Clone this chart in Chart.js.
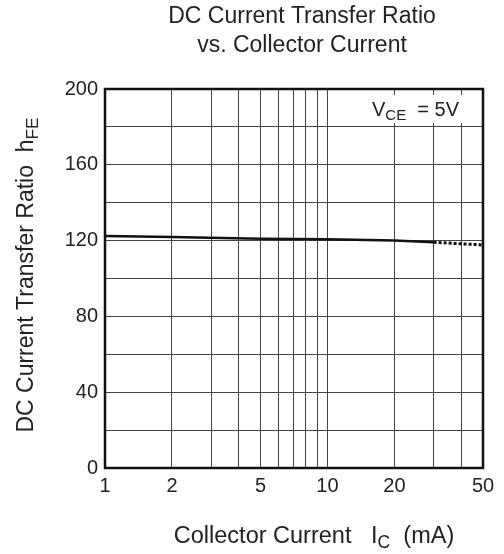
<!DOCTYPE html>
<html>
<head>
<meta charset="utf-8">
<script src="https://cdn.jsdelivr.net/npm/chart.js@4"></script>
<style>
  html, body { margin: 0; padding: 0; background: #fff; }
  #wrap { width: 504px; height: 554px; position: relative; }
</style>
</head>
<body>
<div id="wrap"><canvas id="c"></canvas></div>
<script>
// data
const currentMA = [1, 2, 5, 10, 20, 30];
const hfeValues = [122.4, 121.9, 121.0, 120.7, 120.0, 119.1];
const extCurrentMA = [30, 40, 50];
const extHfeValues = [119.1, 118.3, 117.7];

const xGridValues = [1, 2, 3, 4, 5, 6, 7, 8, 9, 10, 20, 30, 40, 50];
const xLabelValues = [1, 2, 5, 10, 20, 50];
const yLabelValues = [0, 40, 80, 120, 160, 200];

const FONT = '"Liberation Sans", Arial, sans-serif';
const TEXT = '#222';

// draws a run of text where some parts are subscripts
function subText(ctx, parts, x, y, size, align) {
  let total = 0;
  for (const p of parts) {
    ctx.font = (p.sub ? size * 0.75 : size) + 'px ' + FONT;
    total += ctx.measureText(p.t).width;
  }
  let cx = align === 'center' ? x - total / 2 : align === 'right' ? x - total : x;
  ctx.textAlign = 'left';
  ctx.textBaseline = 'alphabetic';
  for (const p of parts) {
    ctx.font = (p.sub ? size * 0.75 : size) + 'px ' + FONT;
    ctx.fillText(p.t, cx, y + (p.sub ? size * 0.22 : 0));
    cx += ctx.measureText(p.t).width;
  }
}

const decorations = {
  id: 'decorations',
  afterDraw(chart) {
    const ctx = chart.ctx;
    const a = chart.chartArea;
    ctx.save();
    ctx.fillStyle = TEXT;

    // title
    ctx.font = '23px ' + FONT;
    ctx.textAlign = 'center';
    ctx.textBaseline = 'alphabetic';
    ctx.fillText('DC Current Transfer Ratio', 302, 23);
    ctx.fillText('vs. Collector Current', 302, 52);

    // V_CE note with white backing
    ctx.fillStyle = '#fff';
    ctx.fillRect(364, 95, 100, 28);
    ctx.fillStyle = TEXT;
    subText(ctx, [{ t: 'V' }, { t: 'CE', sub: true }, { t: '  = 5V' }], 459, 116, 20, 'right');

    // x axis title
    subText(ctx, [{ t: 'Collector Current   I' }, { t: 'C', sub: true }, { t: '  (mA)' }], 314, 543, 23.5, 'center');

    // y axis title
    ctx.translate(33, 275);
    ctx.rotate(-Math.PI / 2);
    subText(ctx, [{ t: 'DC Current Transfer Ratio  h' }, { t: 'FE', sub: true }], 0, 0, 23, 'center');
    ctx.restore();

    // frame
    ctx.save();
    ctx.strokeStyle = '#111';
    ctx.lineWidth = 2.5;
    ctx.strokeRect(a.left, a.top, a.right - a.left, a.bottom - a.top);
    ctx.restore();
  }
};

new Chart(document.getElementById('c'), {
  type: 'line',
  data: {
    datasets: [
      {
        data: currentMA.map((x, i) => ({ x, y: hfeValues[i] })),
        borderColor: '#111',
        borderWidth: 2.5,
        pointRadius: 0,
        tension: 0,
        fill: false,
      },
      {
        data: extCurrentMA.map((x, i) => ({ x, y: extHfeValues[i] })),
        borderColor: '#111',
        borderWidth: 3,
        borderDash: [3, 2],
        pointRadius: 0,
        tension: 0,
        fill: false,
      },
    ],
  },
  options: {
    responsive: true,
    maintainAspectRatio: false,
    animation: false,
    layout: { padding: { top: 89, right: 21, left: 0, bottom: 0 } },
    scales: {
      x: {
        type: 'logarithmic',
        min: 1,
        max: 50,
        afterBuildTicks: (s) => { s.ticks = xGridValues.map(v => ({ value: v })); },
        afterFit: (s) => { s.height = 86; },
        grid: { color: '#444', lineWidth: 1, drawTicks: false },
        border: { display: false },
        ticks: {
          autoSkip: false,
          maxRotation: 0,
          padding: 6,
          color: TEXT,
          font: { family: FONT, size: 20 },
          callback: (v) => xLabelValues.includes(v) ? String(v) : '',
        },
      },
      y: {
        min: 0,
        max: 200,
        afterBuildTicks: (s) => {
          const t = [];
          for (let v = 0; v <= 200; v += 20) t.push({ value: v });
          s.ticks = t;
        },
        afterFit: (s) => { s.width = 105; },
        grid: { color: '#444', lineWidth: 1, drawTicks: false },
        border: { display: false },
        ticks: {
          autoSkip: false,
          padding: 7,
          color: TEXT,
          font: { family: FONT, size: 20 },
          callback: (v) => yLabelValues.includes(v) ? String(v) : '',
        },
      },
    },
    plugins: {
      legend: { display: false },
      tooltip: { enabled: false },
    },
  },
  plugins: [decorations],
});
</script>
</body>
</html>
